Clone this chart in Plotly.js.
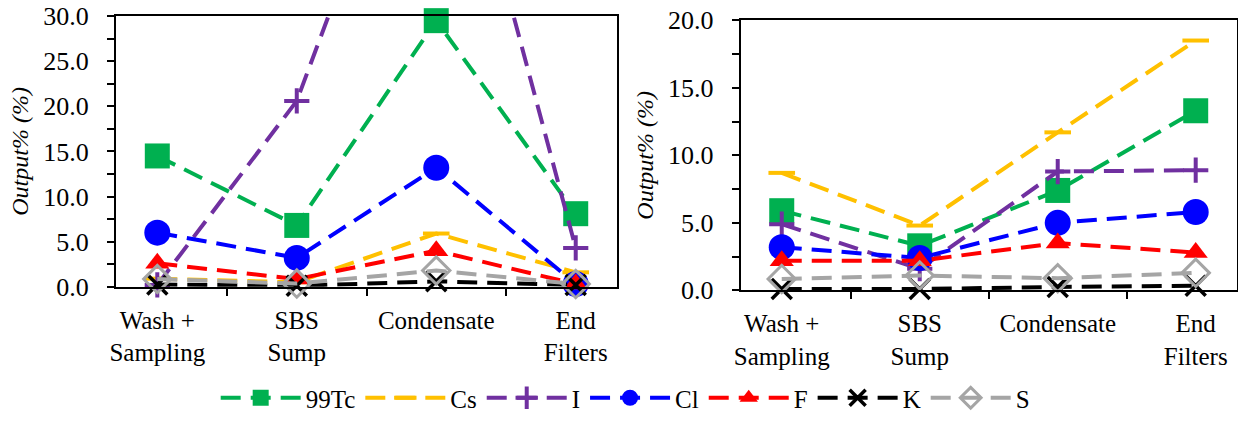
<!DOCTYPE html>
<html>
<head>
<meta charset="utf-8">
<script src="https://cdn.plot.ly/plotly-3.0.1.min.js"></script>
<style>
html,body{margin:0;padding:0;background:#fff;}
#chart text, #chart tspan { font-family: 'Liberation Serif', 'Times New Roman', serif !important; }
</style>
</head>
<body>
<div id="chart"></div>
<script>
// Categories (x tick labels)
const categories = ["Wash +<br>Sampling", "SBS<br>Sump", "Condensate", "End<br>Filters"];
const seriesNames = ["99Tc", "Cs", "I", "Cl", "F", "K", "S"];

// Y tick positions and labels
const yLeftTickVals  = [0, 2.5, 5, 7.5, 10, 12.5, 15, 17.5, 20, 22.5, 25, 27.5, 30];
const yLeftTickText  = ["0.0", "", "5.0", "", "10.0", "", "15.0", "", "20.0", "", "25.0", "", "30.0"];
const yRightTickVals = [0, 2.5, 5, 7.5, 10, 12.5, 15, 17.5, 20];
const yRightTickText = ["0.0", "", "5.0", "", "10.0", "", "15.0", "", "20.0"];

// Left panel values (Output %)
const leftTc = [14.5, 6.8, 29.5, 8.1];
const leftCs = [0.9, 0.5, 5.9, 1.6];
const leftI  = [0.2, 20.6, 62.0, 4.3];
const leftCl = [6.0, 3.2, 13.2, 0.3];
const leftF  = [2.6, 0.85, 4.0, 0.3];
const leftK  = [0.25, 0.1, 0.6, 0.2];
const leftS  = [0.85, 0.35, 1.8, 0.3];

// Right panel values (Output %)
const rightTc = [5.9, 3.3, 7.4, 13.3];
const rightCs = [8.7, 4.8, 11.7, 18.5];
const rightI  = [4.9, 1.6, 8.8, 8.9];
const rightCl = [3.2, 2.4, 5.0, 5.8];
const rightF  = [2.2, 2.2, 3.5, 2.8];
const rightK  = [0.1, 0.1, 0.25, 0.35];
const rightS  = [0.85, 1.1, 0.9, 1.3];

const leftData  = [leftTc, leftCs, leftI, leftCl, leftF, leftK, leftS];
const rightData = [rightTc, rightCs, rightI, rightCl, rightF, rightK, rightS];

const markerStyles = [
  {color:"#00B050", symbol:"square", size:25, lw:0},
  {color:"#FFC000", symbol:"line-ew", size:19, lw:4},
  {color:"#7030A0", symbol:"cross-thin", size:18, lw:4},
  {color:"#0000FF", symbol:"circle", size:26, lw:0},
  {color:"#FF0000", symbol:"triangle-up", size:21, lw:0},
  {color:"#000000", symbol:"x-thin", size:20, lw:3.5},
  {color:"#A5A5A5", symbol:"diamond-open", size:21, lw:3}
];

const SERIF = "Liberation Serif";
const PAD = "\u00a0\u00a0";

function makeTrace(vals, i, xa, ya, showLeg) {
  const s = markerStyles[i];
  return {
    type: "scatter", mode: "lines+markers",
    x: categories, y: vals, name: seriesNames[i],
    xaxis: xa, yaxis: ya, showlegend: showLeg, cliponaxis: false,
    line: {color: s.color, width: 4, dash: "20px,10px"},
    marker: {color: s.color, symbol: s.symbol, size: s.size,
             line: {color: s.color, width: s.lw}}
  };
}

const traces = [];
leftData.forEach((v, i) => traces.push(makeTrace(v, i, "x", "y", true)));
rightData.forEach((v, i) => traces.push(makeTrace(v, i, "x2", "y2", false)));

function xAxis(dom, anchor) {
  return {
    domain: dom, anchor: anchor,
    type: "category", showline: true, linecolor: "#000", linewidth: 2, mirror: true,
    ticks: "outside", ticklen: 7, tickwidth: 2, tickcolor: "#000", tickson: "boundaries",
    showgrid: false, zeroline: false, ticklabelstandoff: 10,
    tickfont: {family: SERIF, size: 25, color: "#000"}
  };
}
function yAxis(maxV, dom, anchor, tv, tt) {
  return {
    domain: dom, anchor: anchor, range: [0, maxV],
    tickmode: "array", tickvals: tv, ticktext: tt.map(t => t ? t + PAD : t),
    showline: true, linecolor: "#000", linewidth: 2, mirror: true,
    ticks: "outside", ticklen: 7, tickwidth: 2, tickcolor: "#000",
    showgrid: false, zeroline: false,
    tickfont: {family: SERIF, size: 26, color: "#000"},
    title: {text: "<i>Output% (%)</i>", standoff: 8, font: {family: SERIF, size: 24, color: "#000"}}
  };
}

const layout = {
  width: 1238, height: 421,
  margin: {l: 0, r: 0, t: 0, b: 0},
  paper_bgcolor: "#fff", plot_bgcolor: "#fff",
  font: {family: SERIF, color: "#000"},
  xaxis: xAxis([0.0937, 0.4984], "y"),
  xaxis2: xAxis([0.5983, 0.999], "y2"),
  yaxis: yAxis(30, [0.304, 0.9608], "x", yLeftTickVals, yLeftTickText),
  yaxis2: yAxis(20, [0.2952, 0.9508], "x2", yRightTickVals, yRightTickText),
  legend: {orientation: "h", x: 0.505, xanchor: "center", y: 0.033, yanchor: "middle",
           itemwidth: 80, font: {family: SERIF, size: 25, color: "#000"},
           bgcolor: "rgba(0,0,0,0)"}
};

Plotly.newPlot("chart", traces, layout, {displayModeBar: false}).then(function (gd) {
  gd.querySelectorAll("text, tspan").forEach(function (el) {
    el.style.setProperty("font-family", "'Liberation Serif', 'Times New Roman', serif", "important");
  });
});
</script>
</body>
</html>
